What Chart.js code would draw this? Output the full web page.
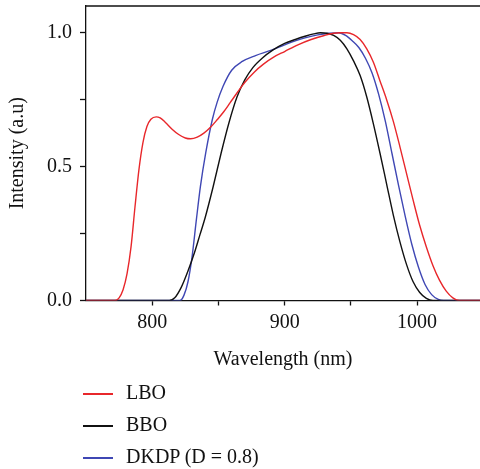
<!DOCTYPE html>
<html>
<head>
<meta charset="utf-8">
<script src="https://cdn.jsdelivr.net/npm/chart.js@4.4.1/dist/chart.umd.min.js"></script>
<style>
  html, body { margin: 0; padding: 0; background: #fff; overflow: hidden; }
  #wrap { position: relative; width: 480px; height: 469px; }
  #legend { position: absolute; left: 83px; top: 378px; font-family: "Liberation Serif", "DejaVu Serif", serif; font-size: 20px; color: #111; }
  .lg-item { position: relative; height: 32px; }
  .lg-line { position: absolute; left: 0; top: 15px; width: 30px; height: 1.5px; }
  .lg-text { position: absolute; left: 43px; top: 3px; white-space: nowrap; }
</style>
</head>
<body>
<div id="wrap">
  <canvas id="chart" width="480" height="469"></canvas>
  <div id="legend"></div>
</div>
<script>
'use strict';

// ===== DATA =====
const seriesNames = ['LBO', 'BBO', 'DKDP (D = 0.8)'];
const seriesColors = ['#e8272b', '#111111', '#3f47b4'];

const lboX = [750, 772, 775, 778, 781, 784, 787, 790, 793, 796, 799, 803, 806, 810, 815, 820, 825, 829, 834, 839, 844, 849, 854, 859, 864, 870, 877, 884, 892, 900, 910, 920, 930, 937, 942, 947, 952, 957, 962, 967, 972, 977, 982, 987, 992, 997, 1002, 1007, 1012, 1017, 1022, 1027, 1032, 1050];
const lboY = [0, 0, 0.01, 0.04, 0.1, 0.2, 0.35, 0.49, 0.59, 0.65, 0.677, 0.686, 0.682, 0.665, 0.64, 0.62, 0.607, 0.604, 0.61, 0.625, 0.647, 0.675, 0.705, 0.74, 0.775, 0.815, 0.853, 0.883, 0.91, 0.93, 0.955, 0.975, 0.99, 0.998, 1.0, 1.0, 0.993, 0.975, 0.94, 0.89, 0.82, 0.75, 0.67, 0.575, 0.475, 0.375, 0.28, 0.2, 0.13, 0.075, 0.035, 0.01, 0, 0];

const bboX = [750, 813, 817, 822, 827, 832, 836, 840, 846, 852, 858, 864, 870, 876, 883, 891, 900, 908, 916, 922, 927, 932, 937, 942, 947, 952, 957, 962, 967, 972, 977, 982, 987, 992, 997, 1002, 1007, 1012, 1050];
const bboY = [0, 0, 0.01, 0.05, 0.11, 0.18, 0.245, 0.31, 0.425, 0.55, 0.665, 0.76, 0.825, 0.87, 0.905, 0.935, 0.96, 0.975, 0.988, 0.996, 1.0, 0.998, 0.99, 0.972, 0.94, 0.895, 0.84, 0.76, 0.66, 0.55, 0.435, 0.32, 0.22, 0.135, 0.07, 0.03, 0.008, 0, 0];

const dkdpX = [750, 821, 824, 827, 830, 833.3, 836.4, 840.4, 845.4, 849, 853.5, 860, 868, 878, 890, 900, 908, 916, 925, 934, 941, 946, 951, 956, 961, 966, 971, 976, 981, 986, 991, 996, 1001, 1006, 1011, 1016, 1020, 1050];
const dkdpY = [0, 0, 0.02, 0.07, 0.16, 0.3, 0.426, 0.551, 0.676, 0.74, 0.8, 0.86, 0.893, 0.915, 0.935, 0.955, 0.97, 0.982, 0.992, 0.998, 1.0, 0.99, 0.97, 0.945, 0.905, 0.85, 0.77, 0.67, 0.55, 0.43, 0.315, 0.21, 0.125, 0.06, 0.022, 0.004, 0, 0];

const xTicks = [800, 850, 900, 950, 1000];
const xLabelled = [800, 900, 1000];
const yTicks = [0, 0.25, 0.5, 0.75, 1.0];
const yLabelled = [0, 0.5, 1.0];

// ===== CHART =====
const FONT = '"Liberation Serif", "DejaVu Serif", serif';
const xs = [lboX, bboX, dkdpX];
const ys = [lboY, bboY, dkdpY];

const datasets = seriesNames.map((name, i) => ({
    label: name,
    data: xs[i].map((x, j) => ({ x: x, y: ys[i][j] })),
    borderColor: seriesColors[i],
    borderWidth: 1.4,
    pointRadius: 0,
    fill: false,
    cubicInterpolationMode: 'monotone',
}));

// trait du haut du cadre
const topLine = {
    id: 'topLine',
    afterDraw(chart) {
        const { ctx, chartArea: { left, right, top } } = chart;
        ctx.save();
        ctx.strokeStyle = '#111'; ctx.lineWidth = 1.3;
        ctx.beginPath(); ctx.moveTo(left, top); ctx.lineTo(right, top); ctx.stroke();
        ctx.restore();
    }
};

new Chart(document.getElementById('chart'), {
    type: 'line',
    data: { datasets: datasets },
    options: {
        responsive: false, animation: false,
        layout: { padding: { top: 6, right: 0, left: 0, bottom: 97.5 } },
        plugins: { legend: { display: false }, tooltip: { enabled: false } },
        scales: {
            x: {
                type: 'linear', min: 750, max: 1047.5,
                afterBuildTicks: s => { s.ticks = xTicks.map(v => ({ value: v })); },
                afterFit: s => { s.height = 71; s.paddingLeft = 0; s.paddingRight = 0; },
                grid: { drawOnChartArea: false, drawTicks: true, tickLength: 5, tickColor: '#111', tickWidth: 1.3 },
                border: { display: true, color: '#111', width: 1.3 },
                ticks: {
                    color: '#111', font: { family: FONT, size: 20 }, padding: 5, maxRotation: 0, autoSkip: false,
                    callback: v => xLabelled.includes(v) ? String(v) : ''
                },
                title: { display: true, text: 'Wavelength (nm)', color: '#111', font: { family: FONT, size: 20 }, padding: { top: 0, bottom: 0 } }
            },
            y: {
                min: 0, max: 1.1,
                afterBuildTicks: s => { s.ticks = yTicks.map(v => ({ value: v })); },
                afterFit: s => { s.width = 86; s.paddingTop = 0; s.paddingBottom = 0; },
                grid: { drawOnChartArea: false, drawTicks: true, tickLength: 6, tickColor: '#111', tickWidth: 1.3 },
                border: { display: true, color: '#111', width: 1.3 },
                ticks: {
                    color: '#111', font: { family: FONT, size: 20 }, padding: 8, autoSkip: false,
                    callback: v => yLabelled.includes(v) ? v.toFixed(1) : ''
                },
                title: { display: true, text: 'Intensity (a.u)', color: '#111', font: { family: FONT, size: 20 }, padding: { top: 6, bottom: 0 } }
            }
        }
    },
    plugins: [topLine]
});

// ===== LEGEND =====
const legend = document.getElementById('legend');
seriesNames.forEach((name, i) => {
    const item = document.createElement('div');
    item.className = 'lg-item';
    item.innerHTML = '<span class="lg-line" style="background:' + seriesColors[i] + '"></span><span class="lg-text"></span>';
    item.querySelector('.lg-text').textContent = name;
    legend.appendChild(item);
});
</script>
</body>
</html>
